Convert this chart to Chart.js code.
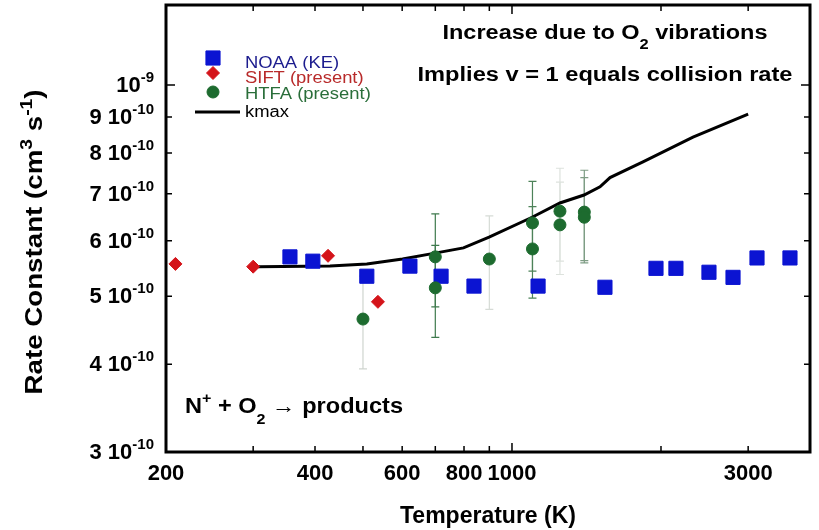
<!DOCTYPE html>
<html>
<head>
<meta charset="utf-8">
<script src="https://cdn.jsdelivr.net/npm/chart.js@4.4.0/dist/chart.umd.min.js"></script>
<style>
  body { margin: 0; background: #fff; }
  #chart { display: block; }
</style>
</head>
<body>
<canvas id="chart" width="819" height="530"></canvas>
<script>
// NOAA (KE) - blue squares
const noaaT = [356, 396, 509, 622, 719, 838, 1129, 1541, 1954, 2144, 2500, 2796, 3126, 3644];
const noaaK = [5.69e-10, 5.61e-10, 5.34e-10, 5.52e-10, 5.34e-10, 5.17e-10, 5.17e-10, 5.15e-10, 5.48e-10, 5.48e-10, 5.41e-10, 5.32e-10, 5.67e-10, 5.67e-10];

// SIFT (present) - red diamonds
const siftT = [209, 300, 425, 536];
const siftK = [5.56e-10, 5.51e-10, 5.71e-10, 4.91e-10];

// HTFA (present) - green circles, with error bars
const htfaT = [500, 700, 700, 900, 1100, 1100, 1250, 1250, 1400, 1400];
const htfaK = [4.64e-10, 5.69e-10, 5.14e-10, 5.65e-10, 6.36e-10, 5.84e-10, 6.61e-10, 6.32e-10, 6.59e-10, 6.48e-10];
const htfaErr = [0.70e-10, 0.86e-10, 0.77e-10, 0.86e-10, 0.93e-10, 0.87e-10, 1.0e-10, 0.95e-10, 0.97e-10, 0.9e-10];

// kmax curve
const kmaxT = [307, 429, 509, 601, 699, 798, 899, 1098, 1250, 1398, 1506, 1578, 1839, 2321, 3000];
const kmaxK = [5.51e-10, 5.52e-10, 5.56e-10, 5.65e-10, 5.76e-10, 5.86e-10, 6.07e-10, 6.48e-10, 6.79e-10, 6.97e-10, 7.16e-10, 7.38e-10, 7.77e-10, 8.43e-10, 9.09e-10];

// axis ticks
const xLabelVals = [200, 400, 600, 800, 1000, 3000];
const xTickVals = [300, 400, 500, 600, 700, 800, 900, 1000, 2000, 3000];
const yTickVals = [4e-10, 5e-10, 6e-10, 7e-10, 8e-10, 9e-10, 1e-9];
const yLabelVals = [3e-10, 4e-10, 5e-10, 6e-10, 7e-10, 8e-10, 9e-10, 1e-9];

// error bar shades (some bars are faint in the original)
const htfaBarColor = ["#cfd5cf", "#3f7a4d", "#3f7a4d", "#d6dbd6", "#4d8259", "#4d8259", "#dde2dd", "#dde2dd", "#7f9d85", "#7f9d85"];

const FONT = "'Liberation Sans', Arial, sans-serif";
const BLUE = "#0b14d2";
const RED = "#d4141a";
const GREEN = "#1d6b2f";

const toXY = (xs, ys) => xs.map((x, i) => ({ x: x, y: ys[i] }));

// text with super/subscripts, optionally stretched to a given width
function drawRich(ctx, parts, x, y, opts) {
  const size = opts.size;
  const small = Math.round(size * 0.7);
  const weight = opts.weight || "bold";
  const fontOf = (k) => `${weight} ${k ? small : size}px ${FONT}`;
  let w = 0;
  for (const [t, k] of parts) {
    ctx.font = fontOf(k);
    w += ctx.measureText(t).width;
  }
  const sx = opts.width ? opts.width / w : opts.sx || 1;
  ctx.save();
  ctx.translate(x, y);
  if (opts.rotate) ctx.rotate(opts.rotate);
  ctx.scale(sx, 1);
  let cx = opts.align === "center" ? -w / 2 : opts.align === "right" ? -w : 0;
  ctx.fillStyle = opts.color || "#000";
  ctx.textBaseline = "alphabetic";
  ctx.textAlign = "left";
  for (const [t, k] of parts) {
    ctx.font = fontOf(k);
    const dy = k === "sup" ? -size * 0.45 : k === "sub" ? size * 0.5 : 0;
    ctx.fillText(t, cx, dy);
    cx += ctx.measureText(t).width;
  }
  ctx.restore();
}

const errorBars = {
  id: "errorBars",
  beforeDatasetsDraw(chart) {
    const { ctx, scales } = chart;
    ctx.save();
    ctx.lineWidth = 1.2;
    htfaT.forEach((t, i) => {
      const px = scales.x.getPixelForValue(t);
      const top = scales.y.getPixelForValue(htfaK[i] + htfaErr[i]);
      const bot = scales.y.getPixelForValue(htfaK[i] - htfaErr[i]);
      ctx.strokeStyle = htfaBarColor[i];
      ctx.beginPath();
      ctx.moveTo(px, top);
      ctx.lineTo(px, bot);
      ctx.moveTo(px - 4, top);
      ctx.lineTo(px + 4, top);
      ctx.moveTo(px - 4, bot);
      ctx.lineTo(px + 4, bot);
      ctx.stroke();
    });
    ctx.restore();
  },
};

const decorations = {
  id: "decorations",
  afterDraw(chart) {
    const { ctx, chartArea: a, scales } = chart;
    ctx.save();
    // frame
    ctx.strokeStyle = "#000";
    ctx.lineWidth = 3;
    ctx.strokeRect(a.left, a.top, a.right - a.left, a.bottom - a.top);
    // inward ticks
    ctx.lineWidth = 1.5;
    ctx.beginPath();
    xTickVals.forEach((v) => {
      const px = scales.x.getPixelForValue(v);
      const len = v === 1000 ? 9 : 6;
      ctx.moveTo(px, a.bottom);
      ctx.lineTo(px, a.bottom - len);
      ctx.moveTo(px, a.top);
      ctx.lineTo(px, a.top + len);
    });
    yTickVals.forEach((v) => {
      const py = scales.y.getPixelForValue(v);
      const len = v === 1e-9 ? 9 : 6;
      ctx.moveTo(a.left, py);
      ctx.lineTo(a.left + len, py);
      ctx.moveTo(a.right, py);
      ctx.lineTo(a.right - len, py);
    });
    ctx.stroke();
    ctx.restore();

    // y tick labels
    yLabelVals.forEach((v) => {
      const py = scales.y.getPixelForValue(v);
      const parts = v >= 1e-9
        ? [["10", ""], ["-9", "sup"]]
        : [[`${Math.round(v / 1e-10)} 10`, ""], ["-10", "sup"]];
      drawRich(ctx, parts, 154, py + 7, { size: 22, align: "right" });
    });

    // y title
    drawRich(ctx, [["Rate Constant (cm", ""], ["3", "sup"], [" s", ""], ["-1", "sup"], [")", ""]],
      42, 242, { size: 23, width: 305, align: "center", rotate: -Math.PI / 2 });

    // annotations
    drawRich(ctx, [["Increase due to O", ""], ["2", "sub"], [" vibrations", ""]],
      605, 39, { size: 20, width: 325, align: "center" });
    drawRich(ctx, [["Implies v = 1 equals collision rate", ""]],
      605, 81, { size: 20, width: 375, align: "center" });
    drawRich(ctx, [["N", ""], ["+", "sup"], [" + O", ""], ["2", "sub"], [" \u2192 products", ""]],
      185, 413, { size: 22, width: 218, align: "left" });

    // legend
    const items = [
      { text: "NOAA (KE)", color: "#1c1c8e", ds: 1, y: 58, ty: 68 },
      { text: "SIFT (present)", color: "#b82a2a", ds: 2, y: 73, ty: 83 },
      { text: "HTFA (present)", color: "#2a6e3a", ds: 0, y: 92, ty: 99 },
      { text: "kmax", color: "#000", ds: 3, y: 112, ty: 117 },
    ];
    items.forEach((it) => {
      const ds = chart.data.datasets[it.ds];
      ctx.save();
      if (ds.showLine) {
        ctx.strokeStyle = ds.borderColor;
        ctx.lineWidth = ds.borderWidth;
        ctx.beginPath();
        ctx.moveTo(195, it.y);
        ctx.lineTo(240, it.y);
        ctx.stroke();
      } else {
        ctx.fillStyle = ds.backgroundColor;
        ctx.strokeStyle = ds.borderColor;
        ctx.lineWidth = 1;
        Chart.helpers.drawPoint(ctx, { pointStyle: ds.pointStyle, radius: ds.pointRadius, rotation: 0, borderWidth: 1 }, 213, it.y);
      }
      ctx.restore();
      drawRich(ctx, [[it.text, ""]], 245, it.ty, { size: 16, weight: "normal", sx: 1.15, color: it.color });
    });
  },
};

new Chart(document.getElementById("chart"), {
  type: "scatter",
  data: {
    datasets: [
      {
        label: "HTFA (present)",
        data: toXY(htfaT, htfaK),
        pointStyle: "circle",
        pointRadius: 6,
        backgroundColor: GREEN,
        borderColor: GREEN,
        borderWidth: 1,
      },
      {
        label: "NOAA (KE)",
        data: toXY(noaaT, noaaK),
        pointStyle: "rect",
        pointRadius: 10,
        backgroundColor: BLUE,
        borderColor: BLUE,
        borderWidth: 1,
      },
      {
        label: "SIFT (present)",
        data: toXY(siftT, siftK),
        pointStyle: "rectRot",
        pointRadius: 6.5,
        backgroundColor: RED,
        borderColor: RED,
        borderWidth: 1,
      },
      {
        label: "kmax",
        data: toXY(kmaxT, kmaxK),
        showLine: true,
        pointRadius: 0,
        borderColor: "#000",
        backgroundColor: "#000",
        borderWidth: 3,
        tension: 0,
      },
    ],
  },
  options: {
    responsive: false,
    animation: false,
    events: [],
    layout: { autoPadding: false, padding: { left: 0, right: 9, top: 5, bottom: 0 } },
    plugins: { legend: { display: false }, tooltip: { enabled: false } },
    scales: {
      x: {
        type: "logarithmic",
        min: 200,
        max: 4000,
        afterFit: (s) => { s.height = 78; },
        afterBuildTicks: (s) => { s.ticks = xLabelVals.map((v) => ({ value: v })); },
        grid: { display: false, drawTicks: false },
        border: { display: false },
        ticks: {
          autoSkip: false,
          maxRotation: 0,
          padding: 9,
          color: "#000",
          font: { family: FONT, size: 22, weight: "bold" },
          callback: (v) => String(v),
        },
        title: {
          display: true,
          text: "Temperature (K)",
          color: "#000",
          font: { family: FONT, size: 23, weight: "bold" },
          padding: 0,
        },
      },
      y: {
        type: "logarithmic",
        min: 3e-10,
        max: 1.3e-9,
        afterFit: (s) => { s.width = 166; },
        grid: { display: false, drawTicks: false },
        border: { display: false },
        ticks: { display: false },
      },
    },
  },
  plugins: [errorBars, decorations],
});
</script>
</body>
</html>
